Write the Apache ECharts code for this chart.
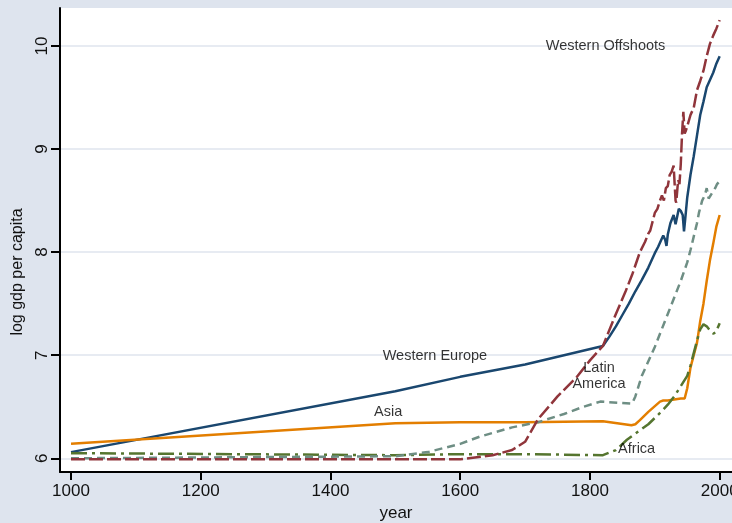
<!DOCTYPE html>
<html>
<head>
<meta charset="utf-8">
<script src="https://cdn.jsdelivr.net/npm/echarts@6/dist/echarts.min.js"></script>
<style>
  html, body { margin: 0; padding: 0; background: #dee4ee; overflow: hidden; }
  #chart { width: 732px; height: 523px; }
</style>
</head>
<body>
<div id="chart"></div>
<script>
// Log GDP per capita by world region, 1000-2000

const xTicks = [1000, 1200, 1400, 1600, 1800, 2000];
const yTicks = [6, 7, 8, 9, 10];

const westEuropeYears = [1000, 1500, 1600, 1700, 1820, 1830, 1840, 1850, 1860, 1870, 1880, 1890, 1900, 1905, 1910, 1913, 1916, 1918, 1920, 1924, 1929, 1932, 1937, 1940, 1943, 1945, 1947, 1950, 1955, 1960, 1965, 1970, 1975, 1980, 1985, 1990, 1993, 1995, 2000];
const westEuropeValues = [6.06, 6.65, 6.79, 6.91, 7.09, 7.18, 7.28, 7.39, 7.50, 7.62, 7.73, 7.85, 7.99, 8.05, 8.12, 8.16, 8.12, 8.06, 8.17, 8.28, 8.36, 8.27, 8.42, 8.40, 8.36, 8.20, 8.33, 8.53, 8.75, 8.93, 9.13, 9.33, 9.46, 9.60, 9.67, 9.74, 9.75, 9.83, 9.90];

const offshootsYears = [1000, 1500, 1600, 1650, 1680, 1700, 1720, 1750, 1780, 1800, 1820, 1840, 1855, 1865, 1877, 1885, 1890, 1893, 1896, 1900, 1904, 1908, 1911, 1914, 1917, 1920, 1923, 1926, 1929, 1932, 1933, 1936, 1938, 1940, 1942, 1944, 1946, 1948, 1950, 1955, 1960, 1965, 1970, 1975, 1980, 1985, 1990, 1995, 2000];
const offshootsValues = [5.99, 5.99, 5.99, 6.03, 6.08, 6.16, 6.38, 6.60, 6.79, 6.95, 7.09, 7.40, 7.62, 7.78, 8.00, 8.10, 8.18, 8.21, 8.20, 8.38, 8.42, 8.50, 8.55, 8.50, 8.62, 8.64, 8.75, 8.78, 8.84, 8.50, 8.48, 8.70, 8.66, 8.85, 9.15, 9.36, 9.15, 9.18, 9.22, 9.33, 9.40, 9.57, 9.66, 9.76, 9.90, 10.02, 10.10, 10.17, 10.25];

const latinYears = [1000, 1500, 1550, 1600, 1630, 1680, 1720, 1760, 1790, 1816, 1865, 1870, 1880, 1900, 1920, 1940, 1950, 1955, 1960, 1965, 1968, 1973, 1977, 1980, 1983, 1987, 1990, 1993, 1996, 2000];
const latinValues = [6.00, 6.02, 6.06, 6.14, 6.21, 6.30, 6.35, 6.43, 6.50, 6.55, 6.53, 6.60, 6.80, 7.08, 7.40, 7.72, 7.90, 8.02, 8.15, 8.28, 8.38, 8.50, 8.55, 8.62, 8.52, 8.56, 8.55, 8.62, 8.66, 8.69];

const africaYears = [1000, 1500, 1600, 1700, 1820, 1840, 1857, 1870, 1890, 1908, 1920, 1930, 1940, 1950, 1955, 1960, 1965, 1970, 1975, 1980, 1985, 1990, 1994, 2000];
const africaValues = [6.05, 6.03, 6.04, 6.04, 6.03, 6.08, 6.18, 6.24, 6.33, 6.44, 6.52, 6.60, 6.70, 6.80, 6.90, 7.02, 7.14, 7.25, 7.30, 7.28, 7.24, 7.21, 7.22, 7.31];

const asiaYears = [1000, 1500, 1600, 1700, 1820, 1864, 1870, 1877, 1890, 1908, 1913, 1920, 1930, 1940, 1946, 1950, 1955, 1960, 1965, 1970, 1975, 1980, 1985, 1990, 1995, 2000];
const asiaValues = [6.14, 6.34, 6.35, 6.35, 6.36, 6.32, 6.33, 6.37, 6.45, 6.55, 6.56, 6.56, 6.57, 6.58, 6.58, 6.68, 6.88, 7.00, 7.12, 7.33, 7.50, 7.72, 7.92, 8.08, 8.25, 8.36];

// Region labels placed in data units: [year, log gdp, text]
const regionLabels = [
  [1824, 10.0, 'Western Offshoots'],
  [1561, 6.99, 'Western Europe'],
  [1489, 6.45, 'Asia'],
  [1814, 6.80, 'Latin\nAmerica'],
  [1872, 6.087, 'Africa']
];

const pairs = (xs, ys) => xs.map((x, i) => [x, ys[i]]);

function lineSeries(name, xs, ys, color, dash) {
  return {
    name: name,
    type: 'line',
    data: pairs(xs, ys),
    showSymbol: false,
    symbol: 'none',
    silent: true,
    lineStyle: { color: color, width: 2.5, type: dash, cap: 'butt' },
    z: 3
  };
}

const chart = echarts.init(document.getElementById('chart'), null, { renderer: 'canvas' });

chart.setOption({
  animation: false,
  backgroundColor: '#dee4ee',
  grid: {
    left: 60, right: 0, top: 8, bottom: 51,
    outerBoundsMode: 'none',
    containLabel: false,
    show: true, backgroundColor: '#ffffff', borderWidth: 0
  },
  xAxis: {
    type: 'value',
    min: 983,
    max: 2019,
    name: 'year',
    nameLocation: 'middle',
    nameGap: 32,
    nameTextStyle: { fontFamily: 'Liberation Sans', fontSize: 17, color: '#111' },
    axisLine: { show: true, onZero: false, lineStyle: { color: '#000', width: 2 } },
    axisTick: { show: true, length: 8, lineStyle: { color: '#000', width: 2 }, customValues: xTicks },
    axisLabel: {
      customValues: xTicks,
      formatter: v => String(v),
      margin: 11,
      hideOverlap: false,
      fontFamily: 'Liberation Sans', fontSize: 17, color: '#111'
    },
    splitLine: { show: false }
  },
  yAxis: {
    type: 'value',
    min: 5.867,
    max: 10.368,
    axisLine: { show: true, onZero: false, lineStyle: { color: '#000', width: 2 } },
    axisTick: { show: true, length: 9, lineStyle: { color: '#000', width: 2 }, customValues: yTicks },
    axisLabel: {
      customValues: yTicks,
      formatter: v => String(v),
      rotate: 90,
      margin: 9,
      fontFamily: 'Liberation Sans', fontSize: 17, color: '#111'
    },
    splitLine: { show: true, lineStyle: { color: '#dfe5ee', width: 1.5 } }
  },
  graphic: [{
    type: 'text',
    x: 18,
    y: 272,
    rotation: Math.PI / 2,
    style: {
      text: 'log gdp per capita',
      font: '16px "Liberation Sans"',
      fill: '#111',
      align: 'center',
      verticalAlign: 'middle'
    }
  }],
  series: [
    lineSeries('Western Europe', westEuropeYears, westEuropeValues, '#1a476f', 'solid'),
    lineSeries('Asia', asiaYears, asiaValues, '#e37e00', 'solid'),
    lineSeries('Africa', africaYears, africaValues, '#55752f', [16, 5, 3, 5]),
    lineSeries('Latin America', latinYears, latinValues, '#6e8e84', [8, 5]),
    lineSeries('Western Offshoots', offshootsYears, offshootsValues, '#90353b', [14, 4]),
    {
      name: 'labels',
      type: 'scatter',
      symbolSize: 0,
      silent: true,
      z: 5,
      data: regionLabels.map(d => ({ value: [d[0], d[1]], name: d[2] })),
      label: {
        show: true,
        position: 'inside',
        formatter: p => p.name,
        fontFamily: 'Liberation Sans',
        fontSize: 14.5,
        lineHeight: 16,
        color: '#000',
        align: 'center',
        verticalAlign: 'middle'
      }
    }
  ]
});
</script>
</body>
</html>
